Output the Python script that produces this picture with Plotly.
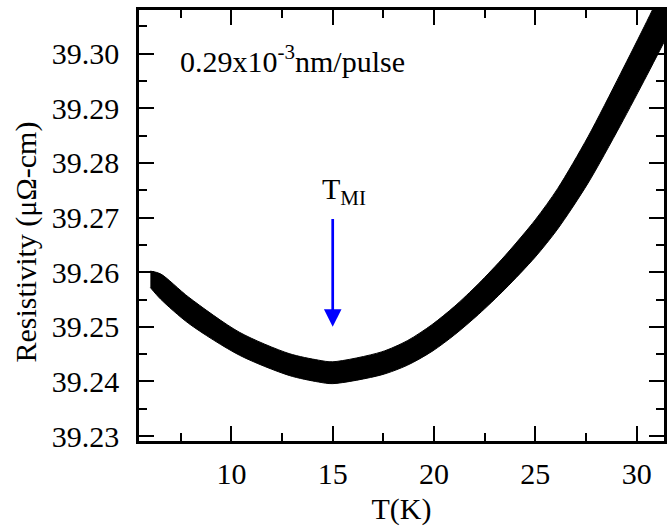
import plotly.graph_objects as go

# Data read from the reference picture: the measured curve is drawn as a thick band,
# so its lower and upper edges are read off at each temperature.
temperature_K = [6.0, 6.5, 7.9, 10.4, 12.85, 14.3, 15.0, 17.4, 18.7, 19.9, 21.0, 22.2, 23.5,
                 25.0, 26.1, 27.6, 29.2, 30.5, 31.35]
resistivity_upper = [39.2602, 39.2597, 39.2554, 39.2490, 39.2451, 39.2439, 39.2436, 39.2454, 39.2475,
                     39.2504, 39.2537, 39.2579, 39.2630, 39.2696, 39.2753, 39.2848, 39.2963, 39.3059, 39.3124]
resistivity_lower = [39.2572, 39.2551, 39.2506, 39.2448, 39.2411, 39.2399, 39.2396, 39.2412, 39.2430,
                     39.2455, 39.2485, 39.2523, 39.2569, 39.2628, 39.2679, 39.2763, 39.2869, 39.2960, 39.3021]

x_range = [5.44, 31.35]
y_range = [39.2291, 39.3080]

x_title = "T(K)"
y_title = "Resistivity (μΩ-cm)"
label_rate = "0.29x10<sup>-3</sup>nm/pulse"
label_tmi = "T<sub>MI</sub>"
tmi_T = 15.0
arrow_from = 39.27
arrow_to = 39.25

FONT = "Times New Roman"

fig = go.Figure()
fig.add_trace(go.Scatter(
    x=temperature_K, y=resistivity_lower, mode="lines",
    line=dict(color="black", width=1, shape="spline", smoothing=0.8),
    showlegend=False, hoverinfo="skip",
))
fig.add_trace(go.Scatter(
    x=temperature_K, y=resistivity_upper, mode="lines", fill="tonexty", fillcolor="black",
    line=dict(color="black", width=1, shape="spline", smoothing=0.8),
    showlegend=False, hoverinfo="skip",
))

axis_common = dict(
    showgrid=False, zeroline=False, showline=True, linecolor="black", linewidth=2.5,
    ticks="inside", ticklen=15, tickwidth=2, tickcolor="black", mirror="allticks",
    tickfont=dict(family=FONT, size=30, color="black"),
)

fig.update_xaxes(
    range=x_range, tick0=0, dtick=5, ticklabelstandoff=4,
    minor=dict(ticks="inside", dtick=2.5, tick0=0, ticklen=8, tickwidth=2, tickcolor="black"),
    title=dict(text=x_title, font=dict(family=FONT, size=30, color="black"), standoff=10),
    **axis_common,
)
fig.update_yaxes(
    range=y_range, tick0=39.23, dtick=0.01, tickformat=".2f", ticklabelstandoff=11,
    minor=dict(ticks="inside", dtick=0.005, tick0=39.23, ticklen=8, tickwidth=2, tickcolor="black"),
    **axis_common,
)

# y-axis title placed as rotated text (centred slightly below the plot middle, as in the reference)
fig.add_annotation(x=-0.216, y=0.462, xref="paper", yref="paper", text=y_title, textangle=-90,
                   showarrow=False, xanchor="center", yanchor="middle",
                   font=dict(family=FONT, size=30, color="black"))

fig.add_annotation(x=7.35, y=39.2991, xref="x", yref="y", text=label_rate, showarrow=False,
                   xanchor="left", yanchor="middle", font=dict(family=FONT, size=30, color="black"))
fig.add_annotation(x=14.38, y=39.2748, xref="x", yref="y", text=label_tmi, showarrow=False,
                   xanchor="left", yanchor="middle", font=dict(family=FONT, size=30, color="black"))
fig.add_annotation(x=tmi_T, y=arrow_to, ax=tmi_T, ay=arrow_from, xref="x", yref="y",
                   axref="x", ayref="y", text="", showarrow=True, arrowhead=2,
                   arrowwidth=2.7, arrowsize=1.3, arrowcolor="#0000ff", standoff=0)

fig.update_layout(
    width=668, height=531,
    margin=dict(l=139, r=1, t=10, b=90),
    paper_bgcolor="white", plot_bgcolor="white",
    font=dict(family=FONT, color="black"),
)

fig.write_html("out.html")
